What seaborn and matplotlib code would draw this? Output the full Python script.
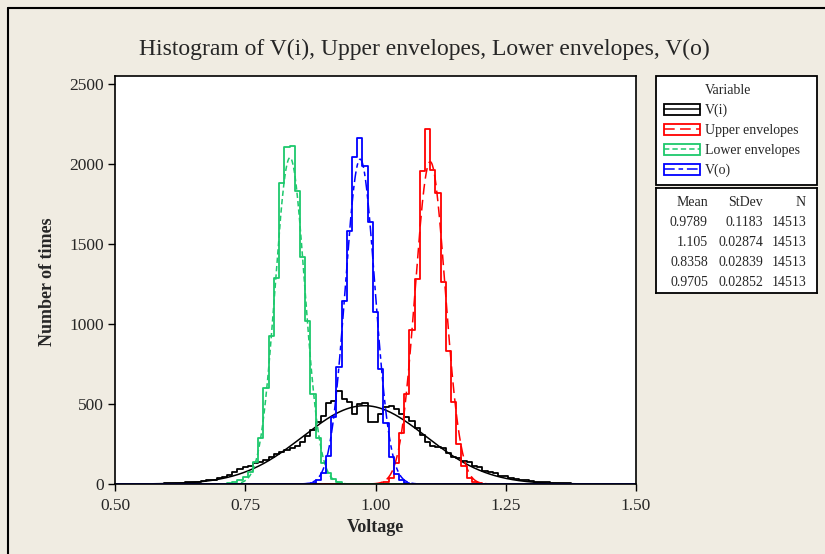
import numpy as np
import pandas as pd
import matplotlib
matplotlib.use("Agg")
import matplotlib.pyplot as plt
import seaborn as sns
from matplotlib.patches import Rectangle
from matplotlib.lines import Line2D
from matplotlib.legend_handler import HandlerTuple

# ---------------- data ----------------
variables = ["V(i)", "Upper envelopes", "Lower envelopes", "V(o)"]
means = [0.9789, 1.105, 0.8358, 0.9705]
stdevs = [0.1183, 0.02874, 0.02839, 0.02852]
n_obs = [14513, 14513, 14513, 14513]
mean_labels = ["0.9789", "1.105", "0.8358", "0.9705"]
stdev_labels = ["0.1183", "0.02874", "0.02839", "0.02852"]

bin_width = 0.01
# counts per 0.01-wide bin, first bin centre given
vi_first_bin = 0.56
vi_counts = [1, 1, 2, 3, 4, 5, 6, 8, 10, 12, 15, 19, 24, 28,
             36, 45, 55, 72, 95, 108, 112, 130, 140, 150,
             168, 185, 200, 212, 228, 240, 262, 300, 340, 385,
             425, 505, 520, 580, 530, 510, 440, 500, 505, 390,
             385, 440, 480, 485, 470, 440, 420, 395, 350, 305,
             265, 235, 230, 225, 195, 170, 165, 145, 140, 112,
             108, 82, 78, 68, 50, 48, 35, 30, 28, 24,
             16, 14, 12, 10, 8, 7, 6, 4, 3, 2, 1, 1]
upper_first_bin = 1.01
upper_counts = [2, 10, 40, 130, 320, 560, 960, 1280, 1955, 2220,
                1960, 1820, 1260, 830, 510, 250, 110, 40, 15, 5, 2]
lower_first_bin = 0.71
lower_counts = [2, 5, 10, 22, 45, 75, 140, 285, 600, 925,
                1285, 1880, 2105, 2110, 1830, 1420, 1020, 560, 290, 130,
                70, 30, 10, 3]
vo_first_bin = 0.87
vo_counts = [2, 8, 25, 70, 175, 420, 730, 1145, 1580, 2045,
             2160, 1990, 1640, 1075, 720, 380, 170, 65, 22, 8, 3]

x_ticks = [0.50, 0.75, 1.00, 1.25, 1.50]
y_ticks = [0, 500, 1000, 1500, 2000, 2500]

# ---------------- styles ----------------
colors = ["#000000", "#ff0000", "#1dc86c", "#0000ff"]
fit_styles = ["-", (0, (7, 3.5)), (0, (3.5, 2)), (0, (7, 2.5, 3, 2.5))]
bg = "#f0ece2"

sns.set_style("white")
plt.rcParams["font.family"] = ["Liberation Serif", "DejaVu Serif"]

W, H = 825, 554
fig = plt.figure(figsize=(W / 100, H / 100), dpi=100, facecolor=bg)

def fx(px):
    return px / W

def fy(py):
    return 1 - py / H

ax_l, ax_r, ax_t, ax_b = 115, 636, 76, 484
ax = fig.add_axes([fx(ax_l), fy(ax_b), fx(ax_r - ax_l), (ax_b - ax_t) / H])
ax.set_facecolor("white")

centers = np.round(np.arange(0.51, 1.4901, bin_width), 2)
lo_edge = float(centers[0] - bin_width / 2)
hi_edge = float(centers[-1] + bin_width / 2)

series = [(vi_first_bin, vi_counts), (upper_first_bin, upper_counts),
          (lower_first_bin, lower_counts), (vo_first_bin, vo_counts)]

xfit = np.linspace(0.5, 1.5, 1001)
for i, (first, counts) in enumerate(series):
    full = pd.Series(0.0, index=centers)
    idx = np.round(first + bin_width * np.arange(len(counts)), 2)
    for c, v in zip(idx, counts):
        full.loc[c] = v
    df = pd.DataFrame({"center": centers, "count": full.values})
    sns.histplot(data=df, x="center", weights="count", binwidth=bin_width,
                 binrange=(lo_edge, hi_edge),
                 element="step", fill=False, color=colors[i],
                 linewidth=1.3, ax=ax)
    yfit = n_obs[i] * bin_width * np.exp(-0.5 * ((xfit - means[i]) / stdevs[i]) ** 2) / (stdevs[i] * np.sqrt(2 * np.pi))
    fdf = pd.DataFrame({"x": xfit, "y": yfit})
    sns.lineplot(data=fdf, x="x", y="y", color=colors[i], linestyle=fit_styles[i],
                 linewidth=1.1, ax=ax, errorbar=None)

ax.set_xlim(0.5, 1.5)
ax.set_ylim(0, 2550)
ax.set_xticks(x_ticks)
ax.set_xticklabels([f"{t:.2f}" for t in x_ticks])
ax.set_yticks(y_ticks)
ax.set_yticklabels([str(t) for t in y_ticks])
ax.tick_params(axis="both", direction="out", length=5, width=1, color="black",
               labelsize=12.5, pad=3, left=True, bottom=True)
ax.tick_params(axis="x", pad=5)
for s in ax.spines.values():
    s.set_color("black")
    s.set_linewidth(1.2)
ax.set_xlabel("")
ax.set_ylabel("")

fig.text(fx(424), fy(49), "Histogram of V(i), Upper envelopes, Lower envelopes, V(o)",
         ha="center", va="center", fontsize=17)
fig.text(fx(375), fy(527), "Voltage", ha="center", va="center", fontsize=13, fontweight="bold")
fig.text(fx(48), fy(282), "Number of times", ha="center", va="center", rotation=90,
         fontsize=13, fontweight="bold")

# outer frame lines (top and left)
fig.add_artist(Line2D([fx(8), fx(8)], [fy(8), 0], color="black", lw=1.5, transform=fig.transFigure))
fig.add_artist(Line2D([fx(8), 1], [fy(8), fy(8)], color="black", lw=1.5, transform=fig.transFigure))

# legend
handles = [Rectangle((0, 0), 1, 1, fill=False, edgecolor="none", linewidth=0)]
labels = ["Variable"]
for i, name in enumerate(variables):
    rect = Rectangle((0, 0), 1, 1, facecolor="none", edgecolor=colors[i], linewidth=1.3)
    ln = Line2D([0, 1], [0, 0], color=colors[i], linestyle=fit_styles[i], linewidth=1.1)
    handles.append((rect, ln))
    labels.append(name)
leg = fig.legend(handles, labels, loc="upper left",
                 bbox_to_anchor=(fx(656), fy(77), fx(817 - 656), 0.001),
                 mode="expand", borderaxespad=0, fontsize=10, frameon=True,
                 fancybox=False, framealpha=1, facecolor="white", edgecolor="black",
                 handlelength=2.6, handleheight=0.85, handletextpad=0.4,
                 labelspacing=0.47, borderpad=0.55,
                 handler_map={tuple: HandlerTuple(ndivide=1, pad=0)})
leg.get_frame().set_linewidth(1.3)

# stats table box
tab = fig.add_axes([fx(656), fy(293), fx(817 - 656), (293 - 188) / H])
tab.set_facecolor("white")
tab.set_xticks([])
tab.set_yticks([])
for s in tab.spines.values():
    s.set_color("black")
    s.set_linewidth(1.3)

col_x = [708, 763, 806]
rows_y = [203, 223, 243, 263, 282]
for txt, cx in zip(["Mean", "StDev", "N"], col_x):
    fig.text(fx(cx), fy(rows_y[0]), txt, ha="right", va="center", fontsize=10)
for r in range(4):
    vals = [mean_labels[r], stdev_labels[r], str(n_obs[r])]
    for txt, cx in zip(vals, col_x):
        fig.text(fx(cx), fy(rows_y[r + 1]), txt, ha="right", va="center", fontsize=10)

fig.savefig("out.png", dpi=100, facecolor=bg)
